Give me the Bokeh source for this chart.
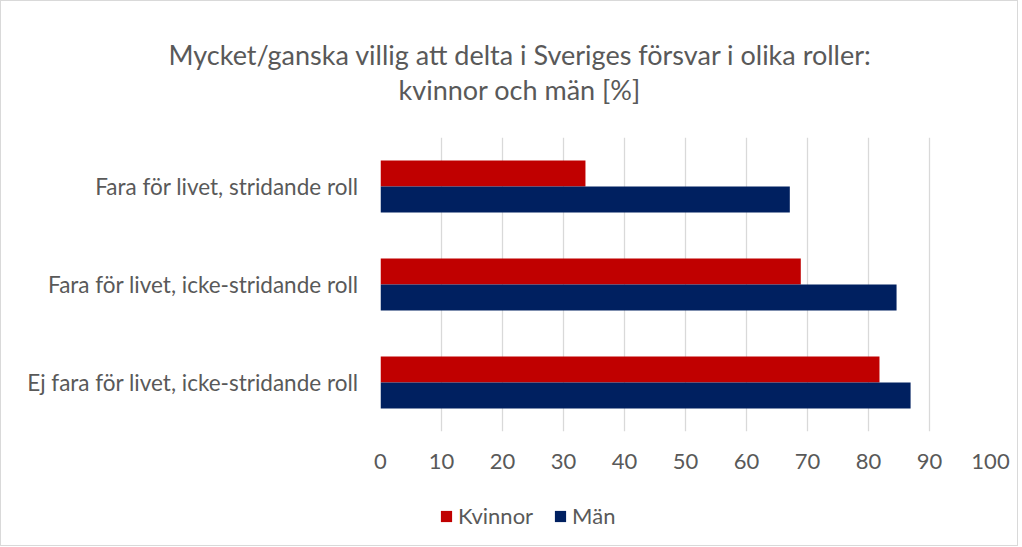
from bokeh.plotting import figure
from bokeh.models import Range1d, FactorRange, Legend, LegendItem, Title
from bokeh.layouts import column
from bokeh.transform import dodge
from bokeh.embed import file_html
from bokeh.resources import INLINE

categories = ["Fara för livet, stridande roll",
              "Fara för livet, icke-stridande roll",
              "Ej fara för livet, icke-stridande roll"]
kvinnor = [33.6, 68.9, 81.8]
man = [67.1, 84.6, 86.9]
series = ["Kvinnor", "Män"]
x_ticks = [0, 10, 20, 30, 40, 50, 60, 70, 80, 90, 100]
title1 = "Mycket/ganska villig att delta i Sveriges försvar i olika roller:"
title2 = "kvinnor och män [%]"

RED = "#C00000"
NAVY = "#002060"
GRAY = "#595959"
FONT = "Lato"

p = figure(frame_width=610, frame_height=294, output_backend="svg", toolbar_location=None,
           y_range=FactorRange(factors=list(reversed(categories)), range_padding=0),
           x_range=Range1d(0, 100),
           min_border_left=379, min_border_right=27, min_border_top=136, min_border_bottom=50)

# spacer between title block and plot area
p.add_layout(Title(text=" ", text_font=FONT, text_font_size="25px", standoff=0), "above")
p.add_layout(Title(text=title2, align="left", offset=18, text_font=FONT,
                   text_font_size="27px", text_font_style="normal", text_color=GRAY,
                   standoff=0), "above")
p.add_layout(Title(text=title1, align="left", offset=-212, text_font=FONT,
                   text_font_size="27px", text_font_style="normal", text_color=GRAY,
                   standoff=0), "above")

src = dict(cat=categories, k=kvinnor, m=man)
p.hbar(y=dodge("cat", 0.133, range=p.y_range), right="k", left=0, height=0.265,
       source=src, fill_color=RED, line_color=None)
p.hbar(y=dodge("cat", -0.133, range=p.y_range), right="m", left=0, height=0.265,
       source=src, fill_color=NAVY, line_color=None)

p.xaxis.ticker = x_ticks
p.xaxis.axis_line_color = None
p.xaxis.major_tick_line_color = None
p.xaxis.minor_tick_line_color = None
p.xaxis.major_label_text_font = FONT
p.xaxis.major_label_text_font_size = "22px"
p.xaxis.major_label_text_color = GRAY
p.xaxis.major_label_standoff = 16

p.yaxis.axis_line_color = None
p.yaxis.major_tick_line_color = None
p.yaxis.major_tick_out = 0
p.yaxis.major_label_text_font = FONT
p.yaxis.major_label_text_font_size = "22.5px"
p.yaxis.major_label_text_color = GRAY
p.yaxis.major_label_standoff = 22

p.xgrid.grid_line_color = "#D9D9D9"
p.xgrid.grid_line_width = 1.3
p.ygrid.grid_line_color = None
p.outline_line_color = None

# legend strip below the chart (its key glyphs sit outside the visible range)
lf = figure(width=1016, height=64, output_backend="svg", toolbar_location=None,
            x_range=Range1d(0, 1), y_range=Range1d(0, 1),
            x_axis_location=None, y_axis_location=None, min_border=0)
lf.grid.visible = False
lf.outline_line_color = None
lk = lf.hbar(y=[-5], right=[0], left=0, height=0.1, fill_color=RED, line_color=None)
lm = lf.hbar(y=[-5], right=[0], left=0, height=0.1, fill_color=NAVY, line_color=None)
legend = Legend(items=[LegendItem(label=series[0], renderers=[lk]),
                       LegendItem(label=series[1], renderers=[lm])],
                location=(59, 16), orientation="horizontal",
                glyph_width=14, glyph_height=14, label_text_font=FONT,
                label_text_font_size="22px", label_text_color=GRAY,
                padding=0, margin=0, spacing=20, label_standoff=5,
                border_line_color=None, background_fill_alpha=0)
lf.add_layout(legend, "center")

layout = column(p, lf, spacing=0)
layout.styles = {"border": "1px solid #D9D9D9"}

open("out.html", "w").write(file_html(layout, INLINE))
